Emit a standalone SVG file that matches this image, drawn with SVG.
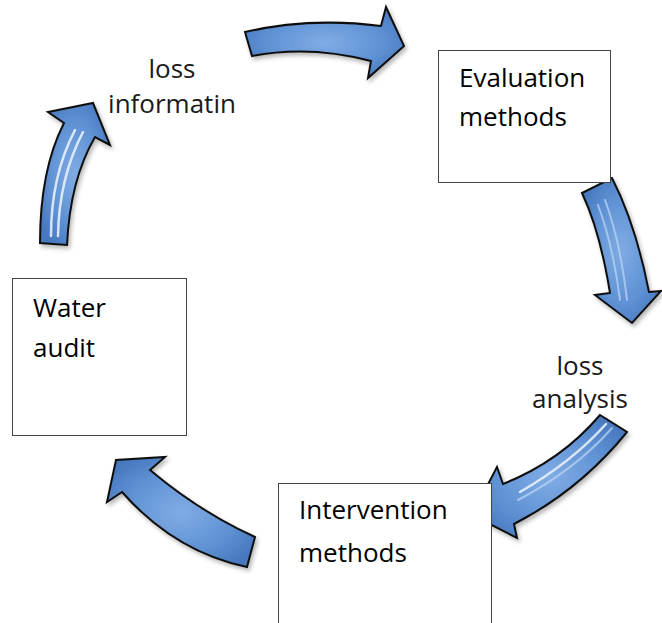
<svg xmlns="http://www.w3.org/2000/svg" width="662" height="623" viewBox="0 0 662 623">
  <defs>
    <radialGradient id="blue" cx="0.5" cy="0.5" r="0.6">
      <stop offset="0" stop-color="#80ace4"/>
      <stop offset="0.6" stop-color="#5f92d4"/>
      <stop offset="1" stop-color="#4677be"/>
    </radialGradient>
    <filter id="shadow" x="-20%" y="-20%" width="140%" height="140%">
      <feDropShadow dx="2" dy="3" stdDeviation="2" flood-color="#000" flood-opacity="0.28"/>
    </filter>
  </defs>
  <style>
    .arrow { fill: url(#blue); stroke: #111; stroke-width: 2; stroke-linejoin: miter; filter: url(#shadow); }
    .hl { fill: none; stroke: #eef5ff; stroke-width: 2.5; stroke-linecap: round; opacity: 0.85; }
    .hl2 { fill: none; stroke: #b3d0f3; stroke-width: 2; stroke-linecap: round; opacity: 0.8; }
    .box { fill: #fff; stroke: #444; stroke-width: 1; }
    .txt { font-family: "Open Sans", "Noto Sans", sans-serif; font-size: 26px; fill: #000; }
    .lbl { font-family: "Open Sans", "Noto Sans", sans-serif; font-size: 26px; fill: #1a1a1a; text-anchor: middle; }
  </style>

  <g id="connectors">
    <g id="arrow-top">
      <path class="arrow" d="M245,32 Q310,17 381,26 L386,7 L404,46 L368,78 L371,61 Q310,45 252,56 Z"/>
    </g>
    <g id="arrow-right">
      <path class="arrow" d="M582,193 L612,178 Q636,225 649,292 L661,291 L632,323 L595,295 L610,293 Q600,231 582,193 Z"/>
      <path class="hl2" d="M605,200 Q620,240 627,300"/>
      <path class="hl2" d="M598,205 Q613,245 620,300"/>
    </g>
    <g id="arrow-lower-right">
      <path class="arrow" d="M600,415 L627,432 Q580,490 514,524 L517,538 L472,515 L497,467 L503,484 Q561,461 600,415 Z"/>
      <path class="hl2" d="M612,428 Q575,470 518,500"/>
      <path class="hl" d="M606,424 Q572,462 520,492"/>
    </g>
    <g id="arrow-bottom">
      <path class="arrow" d="M255,537 L247,567 Q175,552 122,492 L107,502 L116,460 L165,457 L150,470 Q200,512 255,537 Z"/>
    </g>
    <g id="arrow-left">
      <path class="arrow" d="M40,243 Q40,170 64,123 L48,112 L93,103 L110,145 L95,137 Q70,180 67,245 Z"/>
      <path class="hl" d="M51,236 Q51,176 75,130"/>
      <path class="hl" d="M58,236 Q59,178 83,132"/>
    </g>
  </g>

  <g id="node-evaluation">
    <rect class="box" x="438.5" y="50.5" width="172" height="132"/>
    <text class="txt" x="459" y="87">Evaluation</text>
    <text class="txt" x="459" y="126">methods</text>
  </g>

  <g id="node-loss-analysis">
    <text class="lbl" x="580" y="375">loss</text>
    <text class="lbl" x="580" y="408">analysis</text>
  </g>

  <g id="node-intervention">
    <rect class="box" x="278.5" y="483.5" width="213" height="150"/>
    <text class="txt" x="299" y="519">Intervention</text>
    <text class="txt" x="299" y="562">methods</text>
  </g>

  <g id="node-water-audit">
    <rect class="box" x="12.5" y="278.5" width="174" height="157"/>
    <text class="txt" x="33" y="317">Water</text>
    <text class="txt" x="33" y="357">audit</text>
  </g>

  <g id="node-loss-information">
    <text class="lbl" x="172" y="78">loss</text>
    <text class="lbl" x="172" y="113">informatin</text>
  </g>
</svg>
